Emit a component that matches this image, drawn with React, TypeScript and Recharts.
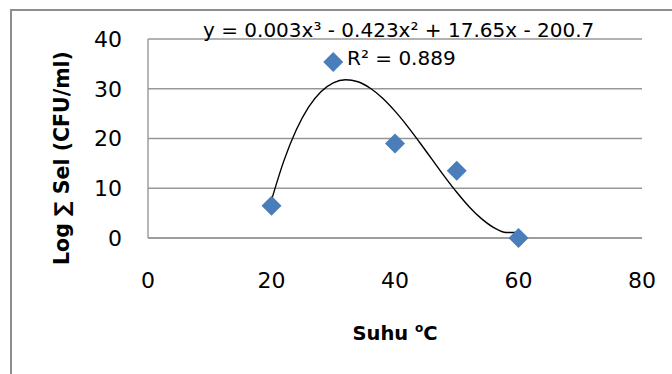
import React from 'react';
import { ComposedChart, Scatter, Line, XAxis, YAxis, CartesianGrid } from 'recharts';

const suhu = [20, 30, 40, 50, 60];
const logSel = [6.5, 35.4, 19, 13.5, 0];

const trendX = [20, 22, 24, 26, 28, 30, 32, 34, 36, 38, 40, 42, 44, 46, 48, 50, 52, 54, 56, 58, 60];
const trendY = [7.6, 15.5, 21.7, 26.3, 29.4, 31.2, 31.8, 31.4, 30.1, 28.1, 25.5, 22.5, 19.2, 15.8, 12.4, 9.2, 6.3, 3.9, 2.1, 1.1, 1.1];

const xTicks = [0, 20, 40, 60, 80];
const yTicks = [0, 10, 20, 30, 40];

const equationText = 'y = 0.003x³ - 0.423x² + 17.65x - 200.7';
const r2Text = 'R² = 0.889';
const yTitle = 'Log ∑ Sel (CFU/ml)';

const points = suhu.map((x, i) => ({ x, y: logSel[i] }));
const trend = trendX.map((x, i) => ({ x, y: trendY[i] }));

const FONT = 'DejaVu Sans, sans-serif';
const GRID = '#979797';

const Diamond = (props: any) => {
  const { cx, cy } = props;
  const r = 10;
  return <path d={`M${cx},${cy - r}L${cx + r},${cy}L${cx},${cy + r}L${cx - r},${cy}Z`} fill="#4a7ebb" />;
};

export default function App() {
  return (
    <div style={{ position: 'absolute', left: 0, top: 0, width: 672, height: 374, background: '#fff', overflow: 'hidden' }}>
      <div
        style={{
          position: 'absolute',
          left: 10,
          top: 9,
          width: 700,
          height: 400,
          borderLeft: '2.5px solid #8e8e8e',
          borderTop: '2.5px solid #8e8e8e',
        }}
      />
      <ComposedChart
        width={672}
        height={374}
        margin={{ top: 39, right: 30, left: 0, bottom: 96 }}
        style={{ position: 'absolute', left: 0, top: 0 }}
      >
        <CartesianGrid vertical={false} stroke={GRID} strokeWidth={1.4} />
        <XAxis
          type="number"
          dataKey="x"
          domain={[0, 80]}
          ticks={xTicks}
          axisLine={{ stroke: GRID, strokeWidth: 1.4 }}
          tickLine={false}
          tickSize={0}
          tickMargin={34}
          height={40}
          tick={{ fontSize: 22, fill: '#000', fontFamily: FONT }}
          allowDuplicatedCategory={false}
        />
        <YAxis
          type="number"
          dataKey="y"
          domain={[0, 40]}
          ticks={yTicks}
          axisLine={{ stroke: GRID, strokeWidth: 1.4 }}
          tickLine={false}
          tickSize={0}
          tickMargin={26}
          width={148}
          tick={{ fontSize: 22, fill: '#000', fontFamily: FONT }}
        />
        <Line
          data={trend}
          dataKey="y"
          type="monotone"
          stroke="#000"
          strokeWidth={1.4}
          dot={false}
          activeDot={false}
          isAnimationActive={false}
        />
        <Scatter data={points} dataKey="y" shape={Diamond} isAnimationActive={false} />
      </ComposedChart>
      <svg width={672} height={374} style={{ position: 'absolute', left: 0, top: 0, pointerEvents: 'none' }}>
        <text x={203} y={37} fontSize={20} fontFamily={FONT} fill="#000">{equationText}</text>
        <text x={347} y={65} fontSize={20} fontFamily={FONT} fill="#000">{r2Text}</text>
        <text
          x={62}
          y={158}
          dy="0.36em"
          transform="rotate(-90 62 158)"
          textAnchor="middle"
          fontSize={20.5}
          fontWeight="bold"
          fontFamily={FONT}
          fill="#000"
        >
          {yTitle}
        </text>
        <text x={395} y={340} textAnchor="middle" fontSize={19.5} fontWeight="bold" fontFamily={FONT} fill="#000">
          Suhu <tspan fontSize={12} dy={-8}>o</tspan><tspan dy={8}>C</tspan>
        </text>
      </svg>
    </div>
  );
}
